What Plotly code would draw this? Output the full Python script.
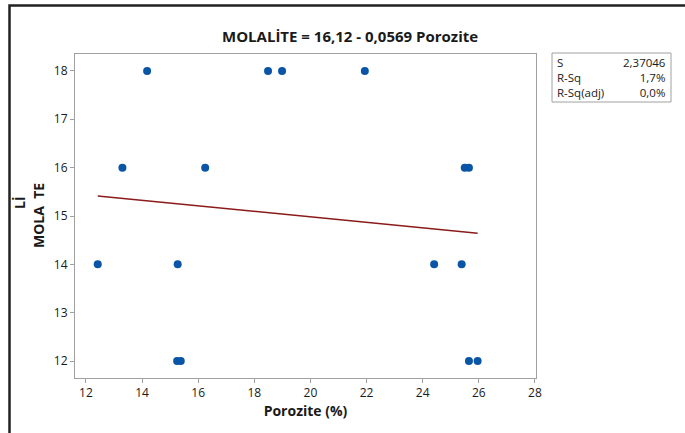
import plotly.graph_objects as go

# Observations: porosity (%) vs. molality
porozite = [14.18, 18.49, 18.99, 21.94, 13.3, 16.25, 25.5, 25.65,
            12.42, 15.27, 24.41, 25.39, 15.25, 15.38, 25.65, 25.96]
molalite = [18, 18, 18, 18, 16, 16, 16, 16,
            14, 14, 14, 14, 12, 12, 12, 12]

# Fitted regression: MOLALİTE = 16,12 - 0,0569 Porozite
b0 = 16.12
b1 = -0.0569

stat_labels = ["S", "R-Sq", "R-Sq(adj)"]
stat_values = ["2,37046", "1,7%", "0,0%"]

x_ticks = [12, 14, 16, 18, 20, 22, 24, 26, 28]
y_ticks = [12, 13, 14, 15, 16, 17, 18]

W, H = 685, 433
L, R, T, B = 75, 536, 54, 378  # plot area in pixels


def px_x(p):
    return (p - L) / (R - L)


def px_y(p):
    return (B - p) / (B - T)


FONT = "Open Sans"
TXT = "#1a1a1a"
AX = "#a0a0a0"

x_lo, x_hi = min(porozite), max(porozite)
fit_x = [x_lo, x_hi]
fit_y = [b0 + b1 * v for v in fit_x]

fig = go.Figure()
fig.add_trace(go.Scatter(x=porozite, y=molalite, mode="markers",
                         marker=dict(size=8, color="#0a55a5"),
                         showlegend=False, cliponaxis=False))
fig.add_trace(go.Scatter(x=fit_x, y=fit_y, mode="lines",
                         line=dict(color="#8b1a1a", width=1.5),
                         showlegend=False))

axis_common = dict(showgrid=False, zeroline=False, showline=True, mirror=True,
                   linecolor=AX, linewidth=1, ticks="outside", ticklen=4,
                   tickcolor=AX, tickfont=dict(family=FONT, size=12, color=TXT))

fig.update_xaxes(range=[11.61, 28.04], tickvals=x_ticks,
                 title=dict(text="<b>Porozite (%)</b>", standoff=5,
                            font=dict(family=FONT, size=14, color=TXT)),
                 **axis_common)
fig.update_yaxes(range=[11.65, 18.35], tickvals=y_ticks, **axis_common)

annotations = [
    dict(text="<b>MOLALİTE = 16,12 - 0,0569 Porozite</b>", xref="paper", yref="paper",
         x=px_x(350), y=px_y(36), showarrow=False,
         font=dict(family=FONT, size=15, color=TXT), xanchor="center", yanchor="middle"),
    dict(text="<b>MOLA  TE</b>", xref="paper", yref="paper", x=px_x(38), y=px_y(216),
         textangle=-90, showarrow=False, font=dict(family=FONT, size=14, color=TXT),
         xanchor="center", yanchor="middle"),
    dict(text="<b>Lİ</b>", xref="paper", yref="paper", x=px_x(19), y=px_y(203),
         textangle=-90, showarrow=False, font=dict(family=FONT, size=14, color=TXT),
         xanchor="center", yanchor="middle"),
    # statistics table: labels column and values column
    dict(text="<br>".join(stat_labels), xref="paper", yref="paper",
         x=px_x(556), y=px_y(77.5), showarrow=False, align="left",
         xanchor="left", yanchor="middle", borderpad=0,
         font=dict(family=FONT, size=11.5, color=TXT)),
    dict(text="<br>".join(stat_values), xref="paper", yref="paper",
         x=px_x(667), y=px_y(77.5), showarrow=False, align="right",
         xanchor="right", yanchor="middle", borderpad=0,
         font=dict(family=FONT, size=11.5, color=TXT)),
]

shapes = [
    # statistics box
    dict(type="rect", xref="paper", yref="paper", x0=px_x(552), x1=px_x(671),
         y0=px_y(102), y1=px_y(53), line=dict(color=AX, width=1)),
    # outer frame
    dict(type="rect", xref="paper", yref="paper", x0=px_x(9.5), x1=px_x(720),
         y0=px_y(470), y1=px_y(5.5), line=dict(color="#222222", width=2.5)),
]

fig.update_layout(width=W, height=H, margin=dict(l=L, r=W - R, t=T, b=H - B),
                  paper_bgcolor="white", plot_bgcolor="white",
                  annotations=annotations, shapes=shapes,
                  font=dict(family=FONT, color=TXT))

fig.write_html("out.html")
